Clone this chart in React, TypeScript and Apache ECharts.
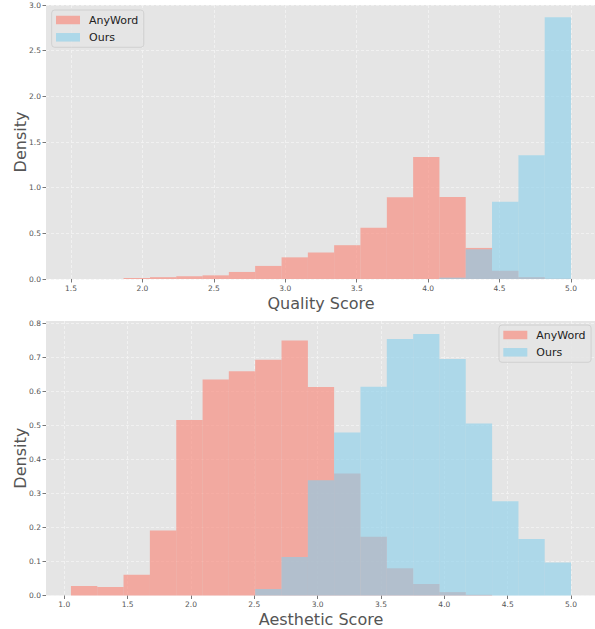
import React, { useEffect, useRef } from "react";
import * as echarts from "echarts";

// Histogram bin edges (shared by both series in each panel)
const qualityEdges = [1.5, 1.684, 1.868, 2.053, 2.237, 2.421, 2.605, 2.789, 2.974, 3.158, 3.342, 3.526, 3.711, 3.895, 4.079, 4.263, 4.447, 4.632, 4.816, 5.0];
const qualityAnyWord = [0, 0, 0.01, 0.02, 0.03, 0.04, 0.077, 0.143, 0.237, 0.29, 0.37, 0.56, 0.895, 1.336, 0.898, 0.34, 0.09, 0.02, 0.003];
const qualityOurs = [0, 0, 0, 0, 0, 0, 0, 0, 0, 0, 0, 0, 0, 0, 0.015, 0.325, 0.847, 1.355, 2.866];

const aestheticEdges = [1.053, 1.261, 1.468, 1.676, 1.884, 2.092, 2.299, 2.507, 2.715, 2.923, 3.13, 3.338, 3.546, 3.754, 3.961, 4.169, 4.377, 4.585, 4.792, 5.0];
const aestheticAnyWord = [0.028, 0.025, 0.061, 0.191, 0.516, 0.635, 0.659, 0.693, 0.75, 0.613, 0.359, 0.173, 0.08, 0.034, 0.01, 0.002, 0, 0, 0];
const aestheticOurs = [0, 0, 0, 0, 0, 0, 0, 0.019, 0.113, 0.339, 0.479, 0.614, 0.754, 0.769, 0.695, 0.506, 0.277, 0.166, 0.097];

const qualityXTicks = [1.5, 2.0, 2.5, 3.0, 3.5, 4.0, 4.5, 5.0];
const qualityYTicks = [0, 0.5, 1.0, 1.5, 2.0, 2.5, 3.0];
const aestheticXTicks = [1.0, 1.5, 2.0, 2.5, 3.0, 3.5, 4.0, 4.5, 5.0];
const aestheticYTicks = [0, 0.1, 0.2, 0.3, 0.4, 0.5, 0.6, 0.7, 0.8];

const seriesNames = ["AnyWord", "Ours"];

const SALMON = "rgba(250,128,114,0.6)";
const SKY = "rgba(135,206,235,0.6)";
const FONT = "DejaVu Sans";

function rows(edges: number[], vals: number[]) {
  return vals.map((v, i) => [edges[i], edges[i + 1], v]);
}

function histSeries(name: string, color: string, idx: number, data: number[][]) {
  return {
    type: "custom",
    name,
    xAxisIndex: idx,
    yAxisIndex: idx,
    itemStyle: { color },
    encode: { x: [0, 1], y: 2 },
    data,
    renderItem: (_params: any, api: any) => {
      const lo = api.value(0);
      const hi = api.value(1);
      const v = api.value(2);
      if (!v) return null;
      const p0 = api.coord([lo, v]);
      const p1 = api.coord([hi, 0]);
      return {
        type: "rect",
        shape: { x: p0[0], y: p0[1], width: p1[0] - p0[0], height: p1[1] - p0[1] },
        style: { fill: color },
      };
    },
  };
}

function xAxis(idx: number, min: number, max: number, ticks: number[], name: string) {
  return {
    type: "value",
    gridIndex: idx,
    min,
    max,
    name,
    nameLocation: "middle",
    nameGap: 16,
    nameMoveOverlap: false,
    nameTextStyle: { fontSize: 16, color: "#555555", fontFamily: FONT },
    axisLine: { show: false },
    axisTick: { show: true, length: 3.5, lineStyle: { color: "#555555", width: 0.8 }, customValues: ticks },
    axisLabel: {
      customValues: ticks,
      fontSize: 7.5,
      color: "#555555",
      fontFamily: FONT,
      margin: 5,
      formatter: (v: number) => v.toFixed(1),
    },
    splitLine: { show: true, lineStyle: { color: "#F4F4F4", width: 0.8, type: [3, 2] } },
  };
}

function yAxis(idx: number, max: number, ticks: number[]) {
  return {
    type: "value",
    gridIndex: idx,
    min: 0,
    max,
    name: "Density",
    nameLocation: "middle",
    nameGap: 18,
    nameMoveOverlap: false,
    nameTextStyle: { fontSize: 16, color: "#555555", fontFamily: FONT },
    axisLine: { show: false },
    axisTick: { show: true, length: 3.5, lineStyle: { color: "#555555", width: 0.8 }, customValues: ticks },
    axisLabel: {
      customValues: ticks,
      fontSize: 7.5,
      color: "#555555",
      fontFamily: FONT,
      margin: 5,
      formatter: (v: number) => v.toFixed(1),
    },
    splitLine: { show: true, lineStyle: { color: "#F4F4F4", width: 0.8, type: [3, 2] } },
  };
}

function legend(left: number, top: number) {
  return {
    orient: "vertical",
    left,
    top,
    data: seriesNames,
    icon: "rect",
    itemWidth: 24,
    itemHeight: 8.5,
    itemGap: 5.3,
    selectedMode: false,
    backgroundColor: "rgba(229,229,229,0.8)",
    borderColor: "#CCCCCC",
    borderWidth: 0.8,
    borderRadius: 3,
    padding: [4, 5.5, 4, 4.3],
    textStyle: { fontSize: 11, lineHeight: 12, color: "#222222", fontFamily: FONT, padding: [0, 0, 0, 4] },
  };
}

export default function App() {
  const ref = useRef<HTMLDivElement>(null);
  useEffect(() => {
    if (!ref.current) return;
    const chart = echarts.init(ref.current, null, { renderer: "svg" });
    chart.setOption({
      animation: false,
      backgroundColor: "#ffffff",
      textStyle: { fontFamily: FONT },
      grid: [
        { left: 46, top: 5, width: 550, height: 274, show: true, backgroundColor: "#E5E5E5", borderWidth: 0, containLabel: false, outerBoundsMode: "none" },
        { left: 46, top: 321, width: 550, height: 274.5, show: true, backgroundColor: "#E5E5E5", borderWidth: 0, containLabel: false, outerBoundsMode: "none" },
      ],
      legend: [legend(51.7, 10), legend(499, 325)],
      xAxis: [
        xAxis(0, 1.325, 5.175, qualityXTicks, "Quality Score"),
        xAxis(1, 0.856, 5.197, aestheticXTicks, "Aesthetic Score"),
      ],
      yAxis: [yAxis(0, 3.0, qualityYTicks), yAxis(1, 0.807, aestheticYTicks)],
      series: [
        histSeries(seriesNames[0], SALMON, 0, rows(qualityEdges, qualityAnyWord)),
        histSeries(seriesNames[1], SKY, 0, rows(qualityEdges, qualityOurs)),
        histSeries(seriesNames[0], SALMON, 1, rows(aestheticEdges, aestheticAnyWord)),
        histSeries(seriesNames[1], SKY, 1, rows(aestheticEdges, aestheticOurs)),
      ],
    });
    return () => chart.dispose();
  }, []);
  return (
    <div
      ref={ref}
      style={{ position: "fixed", left: 0, top: 0, width: 595, height: 629, background: "#fff" }}
    />
  );
}
